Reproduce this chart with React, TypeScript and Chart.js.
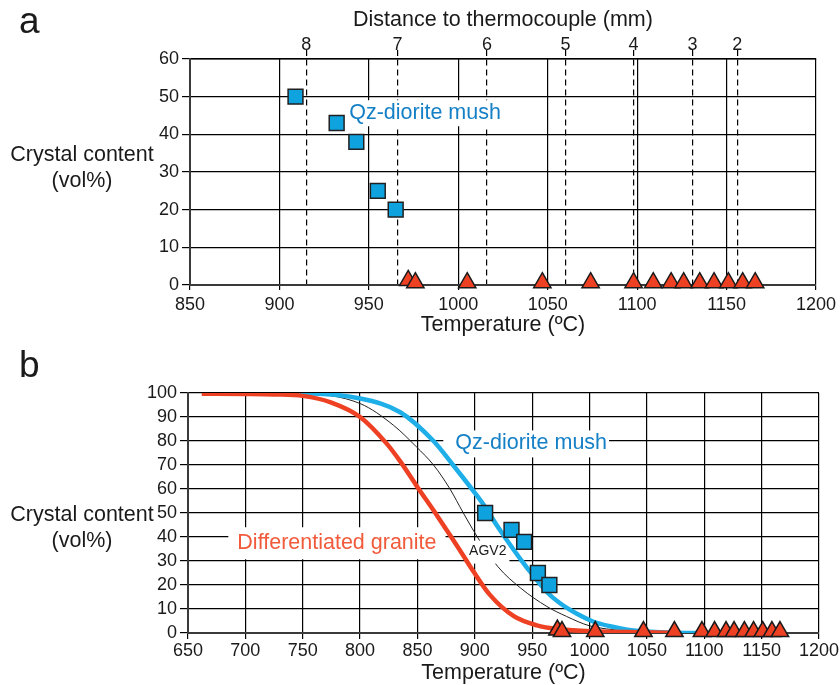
import React, { useEffect, useRef } from "react";
import { Chart, registerables } from "chart.js";

Chart.register(...registerables);

const FONT = "'Liberation Sans', Arial, Helvetica, sans-serif";

// ---------- Panel a ----------
const distanceLabels = ["8", "7", "6", "5", "4", "3", "2"];
const distanceTemps = [915, 966, 1016, 1060, 1098, 1131, 1156];

const tempTicksA = [850, 900, 950, 1000, 1050, 1100, 1150, 1200];
const crystalTicksA = [0, 10, 20, 30, 40, 50, 60];

// experiments: Qz-diorite mush (squares)
const mushTemps = [909, 932, 943, 955, 965];
const mushCrystal = [50, 43, 38, 25, 20];

// experiments: differentiated granite (triangles)
const graniteTemps = [972, 976, 1005, 1047, 1074, 1098, 1109, 1119, 1126, 1135, 1143, 1151, 1159, 1166];
const graniteCrystal = [1.2, 0.6, 0.6, 0.6, 0.6, 0.6, 0.6, 0.6, 0.6, 0.6, 0.6, 0.6, 0.6, 0.6];

// ---------- Panel b ----------
const tempTicksB = [650, 700, 750, 800, 850, 900, 950, 1000, 1050, 1100, 1150, 1200];
const crystalTicksB = [0, 10, 20, 30, 40, 50, 60, 70, 80, 90, 100];

const mushCurveTemps = [700, 750, 800, 835, 864, 881, 899, 909, 919, 934, 945, 963, 974, 989, 1003, 1018, 1033, 1062, 1090, 1150];
const mushCurveCrystal = [100, 99.9, 97.7, 92, 80, 70, 59, 52.5, 45, 34.6, 27.5, 17, 12.5, 8, 4.8, 2.8, 1.4, 0.3, 0, 0];

const graniteCurveTemps = [662, 700, 725, 750, 775, 800, 823, 835, 849, 867, 876, 887, 899, 913, 934, 954, 974, 1003, 1047, 1075];
const graniteCurveCrystal = [99.7, 99.6, 99.4, 98.8, 96, 90, 79, 71.5, 61.5, 49, 42.5, 34.5, 25.5, 16, 7, 3.2, 1.6, 0.7, 0.3, 0.1];

const agv2CurveTemps = [700, 750, 800, 829, 849, 864, 878, 890, 902, 920, 940, 963, 980, 1000, 1030, 1060];
const agv2CurveCrystal = [100, 99.8, 95.6, 86.6, 77.6, 70, 60.3, 50, 40.2, 27.7, 18.7, 11, 6.9, 3, 1, 0.2];

// label texts and anchors (data units)
const labelTextsA = ["Qz-diorite mush"];
const labelTempsA = [939];
const labelCrystalA = [45.6];

const labelTextsB = ["Qz-diorite mush", "Differentiated granite", "AGV2"];
const labelTempsB = [883, 693, 895];
const labelCrystalB = [79, 37.4, 33.9];

const BLUE_LINE = "#1eaee8";
const BLUE_TEXT = "#1580c6";
const SQUARE_FILL = "#0ea2df";
const RED_LINE = "#ee4023";
const RED_TEXT = "#f15a3a";
const TRI_FILL = "#ee4124";
const INK = "#1a1a1a";

const pts = (xs: number[], ys: number[]) => xs.map((x, i) => ({ x, y: ys[i] }));

type BoxLabel = {
  text: string; x: number; y: number; color: string; size: number;
  padL: number; padR: number; padT: number; padB: number;
};

function drawBoxLabels(chart: any, labels: BoxLabel[]) {
  const ctx = chart.ctx;
  const xs = chart.scales.x;
  const ys = chart.scales.y;
  ctx.save();
  labels.forEach((l) => {
    const px = xs.getPixelForValue(l.x);
    const py = ys.getPixelForValue(l.y);
    ctx.font = `${l.size}px ${FONT}`;
    const w = ctx.measureText(l.text).width;
    ctx.fillStyle = "#ffffff";
    ctx.fillRect(px - l.padL, py - l.padT, w + l.padL + l.padR, l.padT + l.padB);
    ctx.fillStyle = l.color;
    ctx.textAlign = "left";
    ctx.textBaseline = "middle";
    ctx.fillText(l.text, px, py);
  });
  ctx.restore();
}

function labelPlugin(labels: BoxLabel[], afterIndex: number | null) {
  return {
    id: "boxLabels",
    beforeDatasetsDraw(chart: any) {
      if (afterIndex === null) drawBoxLabels(chart, labels);
    },
    afterDatasetDraw(chart: any, args: any) {
      if (afterIndex !== null && args.index === afterIndex) drawBoxLabels(chart, labels);
    },
  };
}

type TextOpts = {
  letter: string; letterY: number; yTitleY: number; xTitleY: number;
  topTitle?: string; topTitleY?: number;
};

function textPlugin(o: TextOpts) {
  return {
    id: "texts",
    afterDraw(chart: any) {
      const ctx = chart.ctx;
      const ca = chart.chartArea;
      ctx.save();
      ctx.fillStyle = INK;
      ctx.font = `37px ${FONT}`;
      ctx.textAlign = "left";
      ctx.textBaseline = "alphabetic";
      ctx.fillText(o.letter, 19, o.letterY);
      ctx.font = `21.5px ${FONT}`;
      ctx.textAlign = "center";
      ctx.textBaseline = "middle";
      ctx.fillText("Crystal content", 82, o.yTitleY);
      ctx.fillText("(vol%)", 82, o.yTitleY + 26);
      const cx = (ca.left + ca.right) / 2;
      ctx.fillText("Temperature (ºC)", cx, o.xTitleY);
      if (o.topTitle) ctx.fillText(o.topTitle, cx, o.topTitleY);
      ctx.restore();
    },
  };
}

const tickFont = { family: FONT, size: 18 };
const plainLabel = (v: any) => String(v);

function squareDataset(order: number) {
  return {
    label: "Qz-diorite mush",
    data: pts(mushTemps, mushCrystal),
    showLine: false,
    pointStyle: "rect",
    pointRadius: 10.5,
    pointBackgroundColor: SQUARE_FILL,
    pointBorderColor: "#202020",
    pointBorderWidth: 1.5,
    backgroundColor: SQUARE_FILL,
    borderColor: "#202020",
    clip: false,
    order,
  };
}

function triangleDataset(order: number) {
  return {
    label: "Differentiated granite",
    data: pts(graniteTemps, graniteCrystal),
    showLine: false,
    pointStyle: "triangle",
    pointRadius: 10,
    pointBackgroundColor: TRI_FILL,
    pointBorderColor: "#1a1a1a",
    pointBorderWidth: 1.5,
    backgroundColor: TRI_FILL,
    borderColor: "#1a1a1a",
    clip: false,
    order,
  };
}

function buildTopConfig(): any {
  const labels: BoxLabel[] = labelTextsA.map((t, i) => ({
    text: t, x: labelTempsA[i], y: labelCrystalA[i], color: BLUE_TEXT, size: 21.5,
    padL: 5, padR: 5, padT: 13, padB: 13,
  }));
  return {
    type: "line",
    data: { datasets: [triangleDataset(0), squareDataset(1)] },
    options: {
      animation: false,
      responsive: false,
      events: [],
      layout: { padding: { left: 0, right: 20, top: 0, bottom: 0 } },
      plugins: { legend: { display: false }, tooltip: { enabled: false } },
      scales: {
        x: {
          type: "linear", position: "bottom", min: 850, max: 1200,
          afterBuildTicks: (s: any) => { s.ticks = tempTicksA.map((v) => ({ value: v })); },
          ticks: { font: tickFont, color: INK, padding: 4, autoSkip: false, maxRotation: 0, callback: plainLabel },
          grid: { color: "#000", lineWidth: 1.2, tickLength: 5, tickColor: "#000" },
          border: { color: "#3a3a3a", width: 2 },
          afterFit: (s: any) => { s.height = 55; },
        },
        x2: {
          type: "linear", position: "top", min: 850, max: 1200,
          afterBuildTicks: (s: any) => { s.ticks = distanceTemps.map((v) => ({ value: v })); },
          ticks: {
            font: tickFont, color: INK, padding: -6, autoSkip: false, maxRotation: 0,
            callback: (_v: any, i: number) => distanceLabels[i],
          },
          grid: { color: "#000", lineWidth: 1.2, tickLength: 9, tickColor: "#000", tickBorderDash: [6, 4] },
          border: { display: true, color: "#000", width: 1.5, dash: [6, 4] },
          afterFit: (s: any) => { s.height = 59; },
        },
        y: {
          type: "linear", min: 0, max: 60,
          afterBuildTicks: (s: any) => { s.ticks = crystalTicksA.map((v) => ({ value: v })); },
          ticks: { font: tickFont, color: INK, padding: 3, autoSkip: false, callback: plainLabel },
          grid: { color: "#000", lineWidth: 1.2, tickLength: 8, tickColor: "#000" },
          border: { color: "#3a3a3a", width: 2 },
          afterFit: (s: any) => { s.width = 190; },
        },
      },
    },
    plugins: [
      labelPlugin(labels, null),
      textPlugin({ letter: "a", letterY: 33, yTitleY: 155, xTitleY: 325, topTitle: "Distance to thermocouple (mm)", topTitleY: 20 }),
    ],
  };
}

function buildBottomConfig(): any {
  const colors = [BLUE_TEXT, RED_TEXT, INK];
  const sizes = [21.5, 21.5, 14];
  const pads = [
    [12, 2, 13, 14],
    [9, 9, 16, 16],
    [3, 3, 11, 12],
  ];
  const labels: BoxLabel[] = labelTextsB.map((t, i) => ({
    text: t, x: labelTempsB[i], y: labelCrystalB[i], color: colors[i], size: sizes[i],
    padL: pads[i][0], padR: pads[i][1], padT: pads[i][2], padB: pads[i][3],
  }));
  const curve = (label: string, xs: number[], ys: number[], color: string, width: number, order: number) => ({
    label,
    data: pts(xs, ys),
    borderColor: color,
    backgroundColor: color,
    borderWidth: width,
    pointRadius: 0,
    fill: false,
    cubicInterpolationMode: "monotone",
    borderCapStyle: "butt",
    order,
  });
  return {
    type: "line",
    data: {
      datasets: [
        triangleDataset(0),
        squareDataset(1),
        curve("Differentiated granite", graniteCurveTemps, graniteCurveCrystal, RED_LINE, 4.5, 2),
        curve("Qz-diorite mush", mushCurveTemps, mushCurveCrystal, BLUE_LINE, 4.5, 3),
        curve("AGV2", agv2CurveTemps, agv2CurveCrystal, "#222", 1, 4),
      ],
    },
    options: {
      animation: false,
      responsive: false,
      events: [],
      layout: { padding: { left: 0, right: 21, top: 53, bottom: 0 } },
      plugins: { legend: { display: false }, tooltip: { enabled: false } },
      scales: {
        x: {
          type: "linear", position: "bottom", min: 650, max: 1200,
          afterBuildTicks: (s: any) => { s.ticks = tempTicksB.map((v) => ({ value: v })); },
          ticks: { font: tickFont, color: INK, padding: 1, autoSkip: false, maxRotation: 0, callback: plainLabel },
          grid: { color: "#000", lineWidth: 1.2, tickLength: 6, tickColor: "#000" },
          border: { color: "#3a3a3a", width: 2 },
          afterFit: (s: any) => { s.height = 52; },
        },
        y: {
          type: "linear", min: 0, max: 100,
          afterBuildTicks: (s: any) => { s.ticks = crystalTicksB.map((v) => ({ value: v })); },
          ticks: { font: tickFont, color: INK, padding: 3, autoSkip: false, callback: plainLabel },
          grid: { color: "#000", lineWidth: 1.2, tickLength: 8, tickColor: "#000" },
          border: { color: "#3a3a3a", width: 2 },
          afterFit: (s: any) => { s.width = 188; },
        },
      },
    },
    plugins: [
      labelPlugin(labels, 4),
      textPlugin({ letter: "b", letterY: 37, yTitleY: 175, xTitleY: 333 }),
    ],
  };
}

function ChartCanvas({ build, width, height, top }: { build: () => any; width: number; height: number; top: number }) {
  const ref = useRef<HTMLCanvasElement | null>(null);
  useEffect(() => {
    if (!ref.current) return;
    const chart = new Chart(ref.current, build());
    return () => chart.destroy();
  }, [build]);
  return (
    <canvas
      ref={ref}
      width={width}
      height={height}
      style={{ position: "absolute", left: 0, top, width, height, display: "block" }}
    />
  );
}

export default function App() {
  return (
    <div style={{ position: "absolute", left: 0, top: 0, width: 840, height: 685, background: "#fff", overflow: "hidden" }}>
      <ChartCanvas build={buildTopConfig} width={840} height={340} top={0} />
      <ChartCanvas build={buildBottomConfig} width={840} height={345} top={340} />
    </div>
  );
}
